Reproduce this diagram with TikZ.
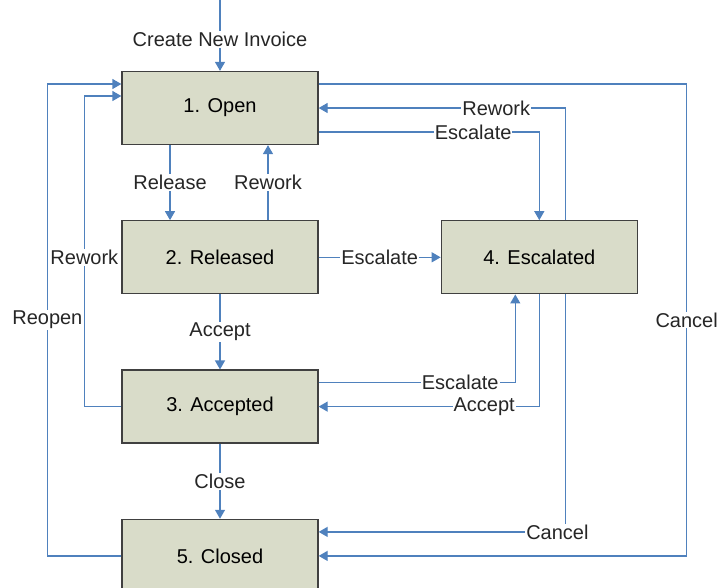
\documentclass[tikz,border=0pt]{standalone}
\usepackage{fontspec}
\setmainfont{Liberation Sans}
\usetikzlibrary{arrows.meta,positioning}
\definecolor{boxfill}{RGB}{217,220,201}
\definecolor{boxline}{RGB}{64,64,64}
\definecolor{flow}{RGB}{79,129,189}
\tikzset{
  st/.style = {rectangle, draw=boxline, fill=boxfill, line width=1.3pt,
    minimum width=196pt, minimum height=73pt, inner sep=0pt,
    font=\fontsize{20}{24}\selectfont},% state box
  lbl/.style = {fill=white, inner sep=1pt, text=black!85,
    font=\fontsize{20}{24}\selectfont},% label on a line
  link/.style = {draw=flow, line width=1.3pt}
}
\begin{document}
\begin{tikzpicture}[x=1pt,y=-1pt,>={Triangle[length=9pt,width=10pt]}]
\useasboundingbox (0,0) rectangle (717,587);
% states
\node [st] (open) at (220,108) {1. Open};
\node [st, below=75pt of open] (released) {2. Released};
\node [st, right=122pt of released] (escalated) {4. Escalated};
\node [st, below=75pt of released] (accepted) {3. Accepted};
\node [st, below=75pt of accepted] (closed) {5. Closed};
\coordinate (inv) at (220,0);
% straight transitions
\draw [link,->] (inv) -- node[lbl,pos=0.56] {Create New Invoice} (open);
\draw [link,->] ([xshift=-50pt]open.south) -- node[lbl] {Release} ([xshift=-50pt]released.north);
\draw [link,->] ([xshift=48pt]released.north) -- node[lbl] {Rework} ([xshift=48pt]open.south);
\draw [link,->] (released) -- node[lbl] {Escalate} (escalated);
\draw [link,->] (released) -- node[lbl] {Accept} (accepted);
\draw [link,->] (accepted) -- node[lbl] {Close} (closed);
% loops on the left
\draw [link,->] (accepted.west) -- ++(-37,0) |- node[lbl,pos=0.24] {Rework} ([yshift=12pt]open.west);
\draw [link,->] (closed.west) -- ++(-74,0) |- node[lbl,pos=0.25] {Reopen} ([yshift=24pt]open.west);
% loops on the right
\draw [link,->] ([yshift=24pt]open.east) -- ++(368,0) |- node[lbl,pos=0.25] {Cancel} (closed.east);
\draw [link,->] ([xshift=26pt]escalated.north) |- node[lbl,pos=0.64] {Rework} (open.east);
\draw [link,->] ([yshift=-24pt]open.east) -| node[lbl,pos=0.35] {Escalate} (escalated.north);
\draw [link,->] ([yshift=24pt]accepted.east) -| node[lbl,pos=0.36] {Escalate} ([xshift=-24pt]escalated.south);
\draw [link,->] (escalated.south) |- node[lbl,pos=0.625] {Accept} (accepted.east);
\draw [link,->] ([xshift=26pt]escalated.south) |- node[lbl,pos=0.516] {Cancel} ([yshift=24pt]closed.east);
\end{tikzpicture}
\end{document}
